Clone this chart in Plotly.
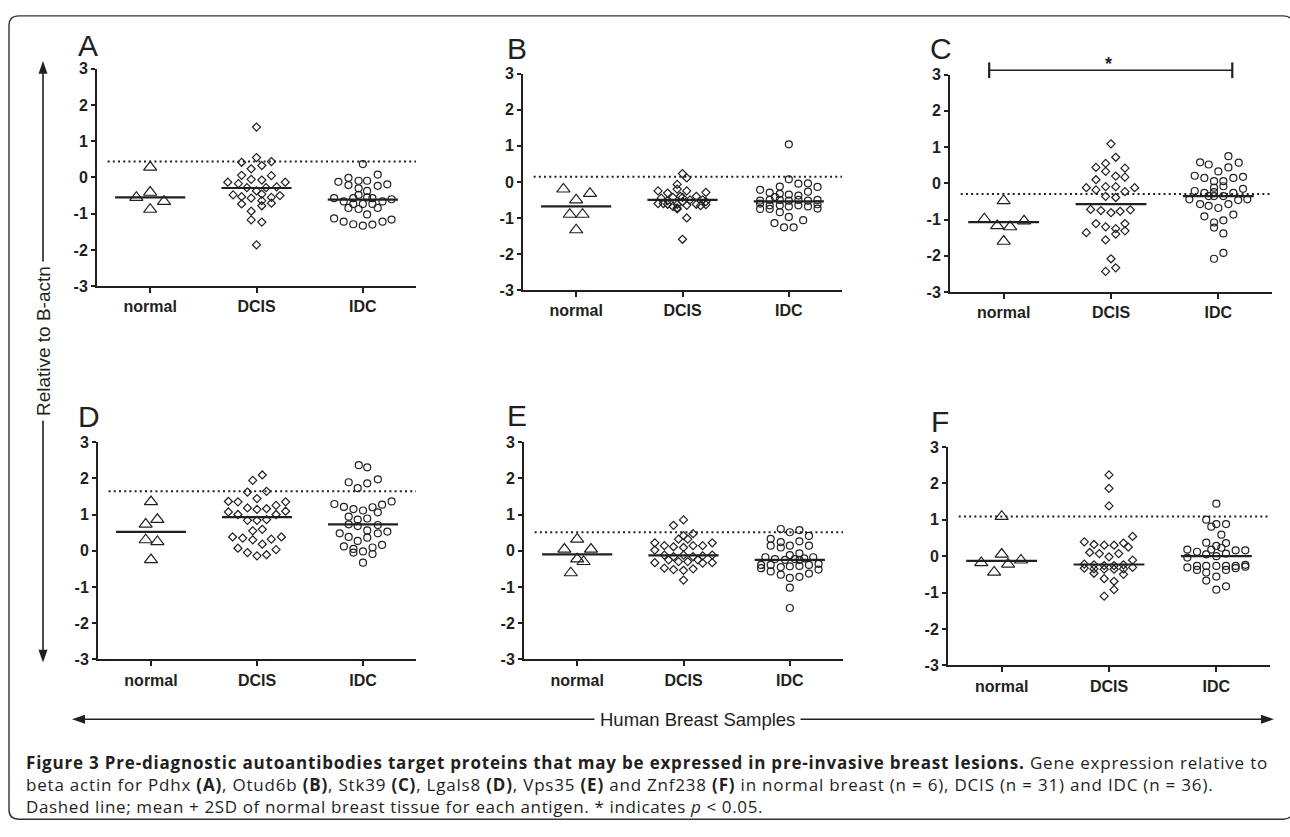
import plotly.graph_objects as go

W, H = 1290, 837
INK = "#231f20"

categories = ["normal", "DCIS", "IDC"]
panel_letters = ["A", "B", "C", "D", "E", "F"]

# ---------------- data (value, horizontal jitter in category units) ----------------
A_normal_y = [0.28, -0.55, -0.41, -0.66, -0.88]
A_normal_dx = [0, -0.13, 0, 0.13, 0]
A_dcis_y = [1.39, 0.55, 0.42, 0.44, 0.24, 0.33, 0.06, 0.05, -0.05, -0.07, -0.13, -0.13, -0.17, -0.26, -0.28, -0.37,
            -0.28, -0.48, -0.50, -0.53, -0.55, -0.57, -0.46, -0.73, -0.71, -0.78, -0.64, -0.93, -1.17, -1.23, -1.86]
A_dcis_dx = [0, 0, -0.14, 0.14, -0.05, 0.05, -0.14, 0.14, -0.05, 0.05, -0.27, 0.27, -0.17, 0.19, -0.09, 0,
             0.09, -0.22, 0.22, -0.14, 0.14, -0.05, 0.05, -0.14, 0.14, 0.05, 0.05, -0.05, -0.05, 0.05, 0]
A_idc_y = [0.37, 0.08, -0.01, -0.09, -0.09, -0.12, -0.19, -0.21, -0.23, -0.30, -0.37, -0.48, -0.55, -0.57, -0.60,
           -0.66, -0.66, -0.73, -0.73, -0.73, -0.57, -0.57, -0.84, -0.87, -0.84, -1.02, -1.13, -1.22, -1.29, -1.33,
           -1.30, -1.22, -1.16]
A_idc_dx = [0, 0.14, -0.135, -0.04, 0.04, -0.23, 0.23, -0.135, 0.14, -0.04, 0.04, -0.04, 0.04, -0.27, 0.27,
            -0.18, 0.185, -0.09, 0, 0.09, -0.09, 0.09, -0.135, -0.04, 0.14, 0.04, -0.27, -0.18, -0.09, 0,
            0.09, 0.185, 0.27]

B_normal_y = [-0.20, -0.32, -0.50, -0.90, -0.90, -1.33]
B_normal_dx = [-0.12, 0.13, 0, -0.06, 0.06, 0]
B_dcis_y = [0.23, 0.11, -0.07, -0.20, -0.25, -0.31, -0.25, -0.29, -0.40, -0.43, -0.43, -0.45, -0.50, -0.52, -0.50,
            -0.55, -0.60, -0.62, -0.62, -0.65, -0.62, -0.63, -0.72, -0.75, -0.66, -0.60, -0.68, -0.55, -1.00, -1.59,
            -0.40]
B_dcis_dx = [0, 0.04, -0.05, -0.05, -0.23, -0.14, 0.04, 0.22, 0.13, -0.09, 0, -0.20, 0.19, -0.14, 0.07,
             0.22, -0.23, -0.14, -0.05, 0.04, 0.13, 0.22, -0.05, -0.05, 0.17, -0.18, -0.09, 0, 0.04, 0,
             -0.02]
B_idc_y = [1.04, 0.07, -0.05, -0.04, -0.13, -0.14, -0.22, -0.30, -0.27, -0.33, -0.35, -0.38, -0.42, -0.52, -0.50,
           -0.50, -0.52, -0.50, -0.52, -0.50, -0.65, -0.65, -0.68, -0.65, -0.68, -0.75, -0.74, -0.75, -0.84, -0.97,
           -1.06, -1.14, -1.26, -1.26, -0.62, -0.60]
B_idc_dx = [0, 0, 0.09, 0.18, -0.085, 0.27, -0.27, -0.18, 0.18, -0.085, 0, 0.09, -0.13, -0.27, -0.18,
            -0.085, 0, 0.09, 0.18, 0.27, -0.18, -0.085, 0, 0.09, 0.18, -0.27, 0.27, -0.18, -0.085, 0,
            0.135, -0.135, -0.045, 0.045, 0.27, -0.27]

C_normal_y = [-0.48, -0.98, -1.17, -1.20, -1.04, -1.60]
C_normal_dx = [0, -0.18, -0.06, 0.06, 0.19, 0]
C_dcis_y = [1.09, 0.72, 0.55, 0.44, 0.42, 0.33, 0.20, 0.17, 0.10, -0.12, -0.12, -0.18, -0.09, -0.09, -0.23, -0.36,
            -0.39, -0.72, -0.75, -0.81, -0.77, -0.73, -1.11, -1.11, -1.20, -1.36, -1.25, -1.31, -1.40, -1.56,
            -2.08, -2.43, -2.33]
C_dcis_dx = [0, 0.044, -0.05, -0.14, 0.13, -0.05, 0.044, 0.13, -0.14, -0.23, 0.22, -0.14, -0.05, 0.044, 0.13,
             -0.05, 0.044, -0.19, -0.094, 0, 0.085, 0.18, -0.14, 0.13, -0.05, -0.23, 0.044, 0.13, 0.044, -0.05,
             0, -0.05, 0.044]
C_idc_y = [0.75, 0.58, 0.52, 0.57, 0.33, 0.44, 0.21, 0.15, 0.06, 0.06, 0.15, 0.18, -0.12, -0.08, -0.21, -0.26,
           -0.24, -0.26, -0.15, -0.44, -0.57, -0.62, -0.68, -0.57, -0.46, -0.44, -0.35, -0.35, -0.35, -0.91,
           -0.86, -1.08, -1.02, -1.22, -1.38, -2.08, -1.92]
C_idc_dx = [0.094, -0.17, -0.09, 0.19, 0, 0.094, -0.22, -0.13, -0.04, 0.047, 0.14, 0.23, -0.04, 0.047, -0.22, -0.13,
            -0.04, 0.14, 0.23, -0.27, -0.17, -0.09, 0, 0.094, 0.185, 0.27, -0.09, 0.047, -0.04, -0.13,
            0.14, -0.04, 0.047, -0.04, 0.047, -0.04, 0.047]

D_normal_y = [1.35, 0.73, 0.86, 0.30, 0.25, -0.25]
D_normal_dx = [0, -0.05, 0.06, -0.05, 0.06, 0]
D_dcis_y = [2.09, 1.94, 1.62, 1.64, 1.44, 1.36, 1.35, 1.35, 1.18, 1.14, 1.16, 1.25, 1.07, 1.00, 1.09, 1.00,
            0.84, 0.84, 0.86, 0.55, 0.59, 0.38, 0.35, 0.30, 0.32, 0.38, 0.18, 0.07, -0.05, -0.14, -0.11, 0.03]
D_dcis_dx = [0.05, -0.04, -0.09, 0.09, 0, -0.27, -0.18, 0.27, -0.09, 0, 0.09, 0.18, -0.27, -0.18, 0.27, 0.18,
             -0.09, 0, 0.09, -0.04, 0.05, -0.23, -0.135, -0.04, 0.135, 0.23, 0.05, -0.18, -0.09, 0, 0.09, 0.18]
D_idc_y = [2.36, 2.30, 1.89, 1.86, 1.97, 1.73, 1.29, 1.21, 1.15, 1.11, 1.20, 1.27, 1.36, 1.06, 0.94, 0.86, 0.89,
           0.73, 0.68, 0.71, 0.48, 0.38, 0.27, 0.36, 0.48, 0.53, 0.56, 0.12, 0.05, -0.05, -0.02, 0.09, 0.16,
           -0.09, -0.33]
D_idc_dx = [-0.04, 0.04, -0.135, 0.04, 0.14, -0.05, -0.27, -0.18, -0.09, 0, 0.09, 0.18, 0.27, 0.14, -0.135, -0.05,
            0.04, -0.135, -0.05, 0.14, -0.22, -0.135, -0.05, 0.04, 0.14, 0.23, 0.04, -0.18, -0.09, -0.09, 0,
            0.09, 0.18, 0.09, 0]

E_normal_y = [0.32, 0.04, 0.04, -0.23, -0.30, -0.61]
E_normal_dx = [0, -0.12, 0.13, 0, 0.06, -0.06]
E_dcis_y = [0.85, 0.70, 0.42, 0.47, 0.32, 0.32, 0.22, 0.14, 0.11, 0.09, 0.14, 0.14, 0.22, 0.02, -0.12, -0.16,
            -0.12, -0.16, -0.14, -0.12, -0.25, -0.30, -0.30, -0.25, -0.33, -0.33, -0.34, -0.48, -0.52, -0.54,
            -0.50, -0.81]
E_dcis_dx = [0, -0.094, 0, 0.09, -0.047, 0.04, -0.27, -0.18, -0.094, 0, 0.09, 0.18, 0.27, -0.27, -0.18, -0.094,
             0, 0.09, 0.18, 0.27, -0.14, -0.047, 0.04, 0.135, -0.27, 0.27, 0.18, -0.18, -0.094, 0,
             0.09, 0]
E_idc_y = [0.60, 0.51, 0.57, 0.33, 0.41, 0.24, 0.26, 0.14, 0.09, 0.14, 0.14, -0.12, -0.07, -0.18, -0.23, -0.25,
           -0.23, -0.21, -0.18, -0.39, -0.39, -0.45, -0.43, -0.42, -0.39, -0.36, -0.48, -0.57, -0.66, -0.75,
           -0.72, -0.63, -0.52, -1.02, -1.58, -0.25]
E_idc_dx = [-0.085, 0, 0.09, -0.18, 0.18, -0.085, 0.09, -0.18, -0.085, 0, 0.18, 0, 0.09, -0.23, -0.14, -0.045,
            0.047, 0.135, 0.22, -0.27, -0.18, -0.085, 0, 0.09, 0.18, 0.27, -0.27, -0.18, -0.085, 0,
            0.09, 0.18, 0.27, 0, 0, 0.09]

F_normal_y = [1.09, 0.05, -0.18, -0.44, -0.22, -0.11]
F_normal_dx = [0, 0, -0.19, -0.07, 0.06, 0.18]
F_dcis_y = [2.23, 1.86, 1.38, 0.54, 0.39, 0.32, 0.30, 0.30, 0.36, 0.25, 0.10, 0.07, -0.02, 0.07, -0.11, -0.22,
            -0.33, -0.24, -0.35, -0.26, -0.36, -0.26, -0.36, -0.24, -0.35, -0.31, -0.47, -0.50, -0.62, -0.69,
            -0.92, -1.10]
F_dcis_dx = [0, 0, 0, 0.22, -0.23, -0.14, -0.045, 0.047, 0.135, 0.18, -0.18, -0.09, 0, 0.09, 0.22, -0.23,
             -0.23, -0.14, -0.14, -0.045, -0.045, 0.047, 0.047, 0.135, 0.135, 0.22, -0.14, 0.135, -0.045, 0.047,
             0.047, -0.045]
F_idc_y = [1.44, 1.00, 0.88, 0.88, 0.81, 0.59, 0.37, 0.28, 0.36, 0.23, 0.18, 0.18, 0.12, 0.16, 0.16, 0.05, 0.00,
           0.07, -0.04, -0.31, -0.27, -0.27, -0.27, -0.27, -0.27, -0.24, -0.38, -0.45, -0.38, -0.33, -0.29,
           -0.56, -0.67, -0.92, -0.83]
F_idc_dx = [0, -0.094, 0, 0.09, -0.047, 0.047, -0.094, 0, 0.09, 0.047, -0.047, -0.27, -0.18, 0.18, 0.27, -0.094, 0,
            0.09, -0.27, -0.27, -0.18, -0.094, 0, 0.09, 0.18, 0.27, -0.18, -0.094, 0.09, 0.18, 0.27,
            0, -0.094, 0, 0.09]

# group means (horizontal bars) and mean + 2SD of normal (dotted line), per panel
means_A = [-0.55, -0.29, -0.61]
means_B = [-0.68, -0.50, -0.54]
means_C = [-1.07, -0.57, -0.35]
means_D = [0.52, 0.93, 0.73]
means_E = [-0.10, -0.13, -0.25]
means_F = [-0.13, -0.23, 0.00]
thresholds = [0.44, 0.14, -0.29, 1.64, 0.51, 1.09]
y_ticks = [-3, -2, -1, 0, 1, 2, 3]

groups = {
    "A": [(A_normal_dx, A_normal_y), (A_dcis_dx, A_dcis_y), (A_idc_dx, A_idc_y)],
    "B": [(B_normal_dx, B_normal_y), (B_dcis_dx, B_dcis_y), (B_idc_dx, B_idc_y)],
    "C": [(C_normal_dx, C_normal_y), (C_dcis_dx, C_dcis_y), (C_idc_dx, C_idc_y)],
    "D": [(D_normal_dx, D_normal_y), (D_dcis_dx, D_dcis_y), (D_idc_dx, D_idc_y)],
    "E": [(E_normal_dx, E_normal_y), (E_dcis_dx, E_dcis_y), (E_idc_dx, E_idc_y)],
    "F": [(F_normal_dx, F_normal_y), (F_dcis_dx, F_dcis_y), (F_idc_dx, F_idc_y)],
}
means = {"A": means_A, "B": means_B, "C": means_C, "D": means_D, "E": means_E, "F": means_F}

# ---------------- layout geometry (pixels) ----------------
BOX = {  # x_left, x_right, y_top(3), y_bottom(-3)
    "A": (97, 416, 62, 284), "B": (523, 842, 67, 288), "C": (950, 1272, 68, 290),
    "D": (98, 416, 443, 665), "E": (524, 843, 443, 665), "F": (948, 1270, 448, 671),
}
LETTER_POS = {"A": (88, 38), "B": (517, 41), "C": (941, 41), "D": (89, 417), "E": (517, 416), "F": (940, 422)}
symbols = ["triangle-up-open", "diamond-open", "circle-open"]
sizes = [11.5, 6.2, 7]


def px(x):
    return x / W


def py(y):
    return 1 - y / H


def data_to_px(p, xv, yv):
    x0, x1, y0, y1 = BOX[p]
    return x0 + (xv + 0.5) / 3 * (x1 - x0), y1 - (yv + 3) / 6 * (y1 - y0)


fig = go.Figure()
layout_axes = {}
tickfont = dict(family="Liberation Sans", size=16, color=INK, weight="bold")

for i, p in enumerate(panel_letters):
    n = "" if i == 0 else str(i + 1)
    xa, ya = "x" + n, "y" + n
    x0, x1, y0, y1 = BOX[p]
    layout_axes["xaxis" + n] = dict(
        domain=[px(x0), px(x1)], range=[-0.5, 2.5], anchor=ya, tickmode="array",
        tickvals=[0, 1, 2], ticktext=categories, showline=True, linewidth=2, linecolor=INK,
        ticks="outside", ticklen=5, tickwidth=2, tickcolor=INK, showgrid=False, zeroline=False,
        tickfont=tickfont, fixedrange=True)
    layout_axes["yaxis" + n] = dict(
        domain=[py(y1), py(y0)], range=[-3, 3], anchor=xa, tickmode="array",
        tickvals=y_ticks, ticktext=[str(t) for t in y_ticks], showline=True, linewidth=2, linecolor=INK,
        ticks="outside", ticklen=4, tickwidth=2, tickcolor=INK, showgrid=False, zeroline=False,
        tickfont=tickfont, fixedrange=True)

    # dotted threshold line
    fig.add_trace(go.Scatter(x=[-0.4, 2.5], y=[thresholds[i]] * 2, mode="lines", xaxis=xa, yaxis=ya,
                             line=dict(color=INK, width=2, dash="2px,3.2px"), hoverinfo="skip"))
    for g in range(3):
        dx, yv = groups[p][g]
        fig.add_trace(go.Scatter(
            x=[g + d for d in dx], y=yv, mode="markers", xaxis=xa, yaxis=ya,
            marker=dict(symbol=symbols[g], size=sizes[g], color=INK, line=dict(color=INK, width=1.2)),
            cliponaxis=False))
        m = means[p][g]
        fig.add_trace(go.Scatter(x=[g - 0.33, g + 0.33], y=[m, m], mode="lines", xaxis=xa, yaxis=ya,
                                 line=dict(color=INK, width=2.2), hoverinfo="skip"))

annotations = []
shapes = []
for p in panel_letters:
    lx, ly = LETTER_POS[p]
    annotations.append(dict(x=px(lx), y=py(ly), xref="paper", yref="paper", text=p, showarrow=False,
                            xanchor="center", yanchor="middle",
                            font=dict(family="Liberation Sans", size=30, color=INK)))

# significance bar in panel C (normal vs IDC)
sx0, sy = data_to_px("C", -0.135, 3.12)
sx1, _ = data_to_px("C", 2.13, 3.12)
line_style = dict(color=INK, width=1.6)
shapes.append(dict(type="line", xref="paper", yref="paper", x0=px(sx0), x1=px(sx1), y0=py(sy), y1=py(sy), line=line_style))
for sx in (sx0, sx1):
    shapes.append(dict(type="line", xref="paper", yref="paper", x0=px(sx), x1=px(sx), y0=py(sy - 8), y1=py(sy + 8),
                       line=dict(color=INK, width=2.2)))
stx, _ = data_to_px("C", 0.98, 0)
annotations.append(dict(x=px(stx), y=py(sy - 6), xref="paper", yref="paper", text="<b>*</b>", showarrow=False,
                        xanchor="center", yanchor="middle", font=dict(family="Liberation Sans", size=18, color=INK)))

# vertical arrow with label
ax_x = 43
shapes.append(dict(type="line", xref="paper", yref="paper", x0=px(ax_x), x1=px(ax_x), y0=py(62), y1=py(660),
                   line=dict(color=INK, width=1.6)))
shapes.append(dict(type="path", xref="paper", yref="paper", fillcolor=INK, line=dict(width=0),
                   path=f"M {px(ax_x)},{py(54)} L {px(ax_x - 4.5)},{py(67)} L {px(ax_x + 4.5)},{py(67)} Z"))
shapes.append(dict(type="path", xref="paper", yref="paper", fillcolor=INK, line=dict(width=0),
                   path=f"M {px(ax_x)},{py(668)} L {px(ax_x - 4.5)},{py(655)} L {px(ax_x + 4.5)},{py(655)} Z"))
annotations.append(dict(x=px(ax_x), y=py(340), xref="paper", yref="paper", text="Relative to B-actn",
                        showarrow=False, textangle=-90, xanchor="center", yanchor="middle", bgcolor="white",
                        borderpad=4, font=dict(family="Liberation Sans", size=19, color=INK)))

# horizontal arrow with label
hy = 726
shapes.append(dict(type="line", xref="paper", yref="paper", x0=px(80), x1=px(1266), y0=py(hy), y1=py(hy),
                   line=dict(color=INK, width=1.6)))
shapes.append(dict(type="path", xref="paper", yref="paper", fillcolor=INK, line=dict(width=0),
                   path=f"M {px(72)},{py(hy)} L {px(85)},{py(hy - 4.5)} L {px(85)},{py(hy + 4.5)} Z"))
shapes.append(dict(type="path", xref="paper", yref="paper", fillcolor=INK, line=dict(width=0),
                   path=f"M {px(1274)},{py(hy)} L {px(1261)},{py(hy - 4.5)} L {px(1261)},{py(hy + 4.5)} Z"))
annotations.append(dict(x=px(697), y=py(hy), xref="paper", yref="paper", text="Human Breast Samples",
                        showarrow=False, xanchor="center", yanchor="middle", bgcolor="white", borderpad=5,
                        font=dict(family="Liberation Sans", size=18.5, color=INK)))

# rounded outer border
bx0, by0, bx1, by1, r = 9, 8, 1293, 828, 10
border = (f"M {px(bx0 + r)},{py(by0)} L {px(bx1 - r)},{py(by0)} Q {px(bx1)},{py(by0)} {px(bx1)},{py(by0 + r)} "
          f"L {px(bx1)},{py(by1 - r)} Q {px(bx1)},{py(by1)} {px(bx1 - r)},{py(by1)} "
          f"L {px(bx0 + r)},{py(by1)} Q {px(bx0)},{py(by1)} {px(bx0)},{py(by1 - r)} "
          f"L {px(bx0)},{py(by0 + r)} Q {px(bx0)},{py(by0)} {px(bx0 + r)},{py(by0)} Z")
shapes.append(dict(type="path", xref="paper", yref="paper", path=border, line=dict(color="#333333", width=1.4)))

# caption (one multi-line text block)
caption_lines = [
    "<b>Figure 3 Pre-diagnostic autoantibodies target proteins that may be expressed in pre-invasive breast lesions.</b>"
    " Gene expression relative to",
    "beta actin for Pdhx <b>(A)</b>, Otud6b <b>(B)</b>, Stk39 <b>(C)</b>, Lgals8 <b>(D)</b>, Vps35 <b>(E)</b> and "
    "Znf238 <b>(F)</b> in normal breast (n = 6), DCIS (n = 31) and IDC (n = 36).",
    "Dashed line; mean + 2SD of normal breast tissue for each antigen. * indicates <i>p</i> &lt; 0.05.",
]
caption_spacing = ["0.8px", "0.8px", "0.63px"]
caption_text = "<br>".join(
    f'<span style="letter-spacing:{sp}">{ln}</span>' for ln, sp in zip(caption_lines, caption_spacing))
annotations.append(dict(x=px(25), y=py(757), xref="paper", yref="paper", text=caption_text, showarrow=False,
                        xanchor="left", yanchor="top", align="left", borderpad=0,
                        font=dict(family="Open Sans", size=17, color=INK)))

fig.update_layout(
    width=W, height=H, margin=dict(l=0, r=0, t=0, b=0), paper_bgcolor="white", plot_bgcolor="white",
    showlegend=False, annotations=annotations, shapes=shapes, **layout_axes)

fig.write_html("out.html")
